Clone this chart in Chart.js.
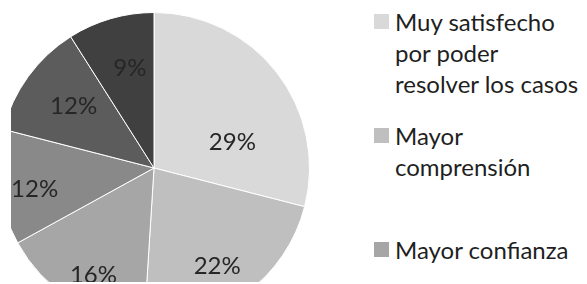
<!DOCTYPE html>
<html>
<head>
<meta charset="utf-8">
<script src="https://cdn.jsdelivr.net/npm/chart.js@4"></script>
<style>
  body { margin: 0; background: #fff; width: 587px; height: 284px; overflow: hidden; position: relative; font-family: Lato, "Open Sans", sans-serif; }
  #pieBox { position: absolute; left: 11px; top: 0; width: 300px; height: 282px; overflow: hidden; }
  #pieChart { position: absolute; left: -17px; top: 8px; }
  #legend { position: absolute; left: 0; top: 0; }
  .item { position: absolute; left: 374px; font-size: 24px; line-height: 31px; color: #1f1f1f; }
  .item .sw { position: absolute; left: 0; top: 8px; width: 15px; height: 15px; }
  .item .txt { margin-left: 21px; white-space: nowrap; }
</style>
</head>
<body>
<div id="pieBox"><canvas id="pieChart" width="320" height="320"></canvas></div>
<div id="legend"></div>
<script>
// datos
const categorias = [
  ["Muy satisfecho", "por poder", "resolver los casos"],
  ["Mayor", "comprensión"],
  ["Mayor confianza"],
  ["(otro)"],
  ["(otro)"],
  ["(otro)"]
];
const porcentajes = [29, 22, 16, 12, 12, 9];
const grises = ["#d9d9d9", "#bfbfbf", "#a6a6a6", "#898989", "#5c5c5c", "#404040"];

// donde va cada etiqueta dentro de su porcion: [fraccion del angulo, fraccion del radio]
const posEtiqueta = [[0.69, 0.53], [0.54, 0.75], [0.45, 0.79], [0.43, 0.78], [0.53, 0.65], [0.58, 0.66]];

const etiquetas = {
  id: "etiquetas",
  afterDatasetsDraw(chart) {
    const ctx = chart.ctx;
    const arcs = chart.getDatasetMeta(0).data;
    ctx.save();
    ctx.font = "24px Lato";
    ctx.fillStyle = "#262626";
    ctx.textAlign = "center";
    ctx.textBaseline = "middle";
    arcs.forEach((arc, i) => {
      const p = posEtiqueta[i];
      const a = arc.startAngle + p[0] * (arc.endAngle - arc.startAngle);
      const r = p[1] * arc.outerRadius;
      ctx.fillText(porcentajes[i] + "%", arc.x + Math.cos(a) * r, arc.y + Math.sin(a) * r);
    });
    ctx.restore();
  }
};

new Chart(document.getElementById("pieChart"), {
  type: "pie",
  data: {
    labels: categorias,
    datasets: [{
      data: porcentajes,
      backgroundColor: grises,
      borderColor: "#ffffff",
      borderWidth: 1
    }]
  },
  options: {
    responsive: false,
    animation: false,
    layout: { padding: 4 },
    plugins: {
      legend: { display: false },
      tooltip: { enabled: false }
    }
  },
  plugins: [etiquetas]
});

// leyenda a la derecha
const legend = document.getElementById("legend");
categorias.forEach((lineas, i) => {
  const item = document.createElement("div");
  item.className = "item";
  item.style.top = (6 + i * 114) + "px";
  item.innerHTML = `<div class="sw" style="background:${grises[i]}"></div>
    <div class="txt">${lineas.join("<br>")}</div>`;
  legend.appendChild(item);
});
</script>
</body>
</html>
